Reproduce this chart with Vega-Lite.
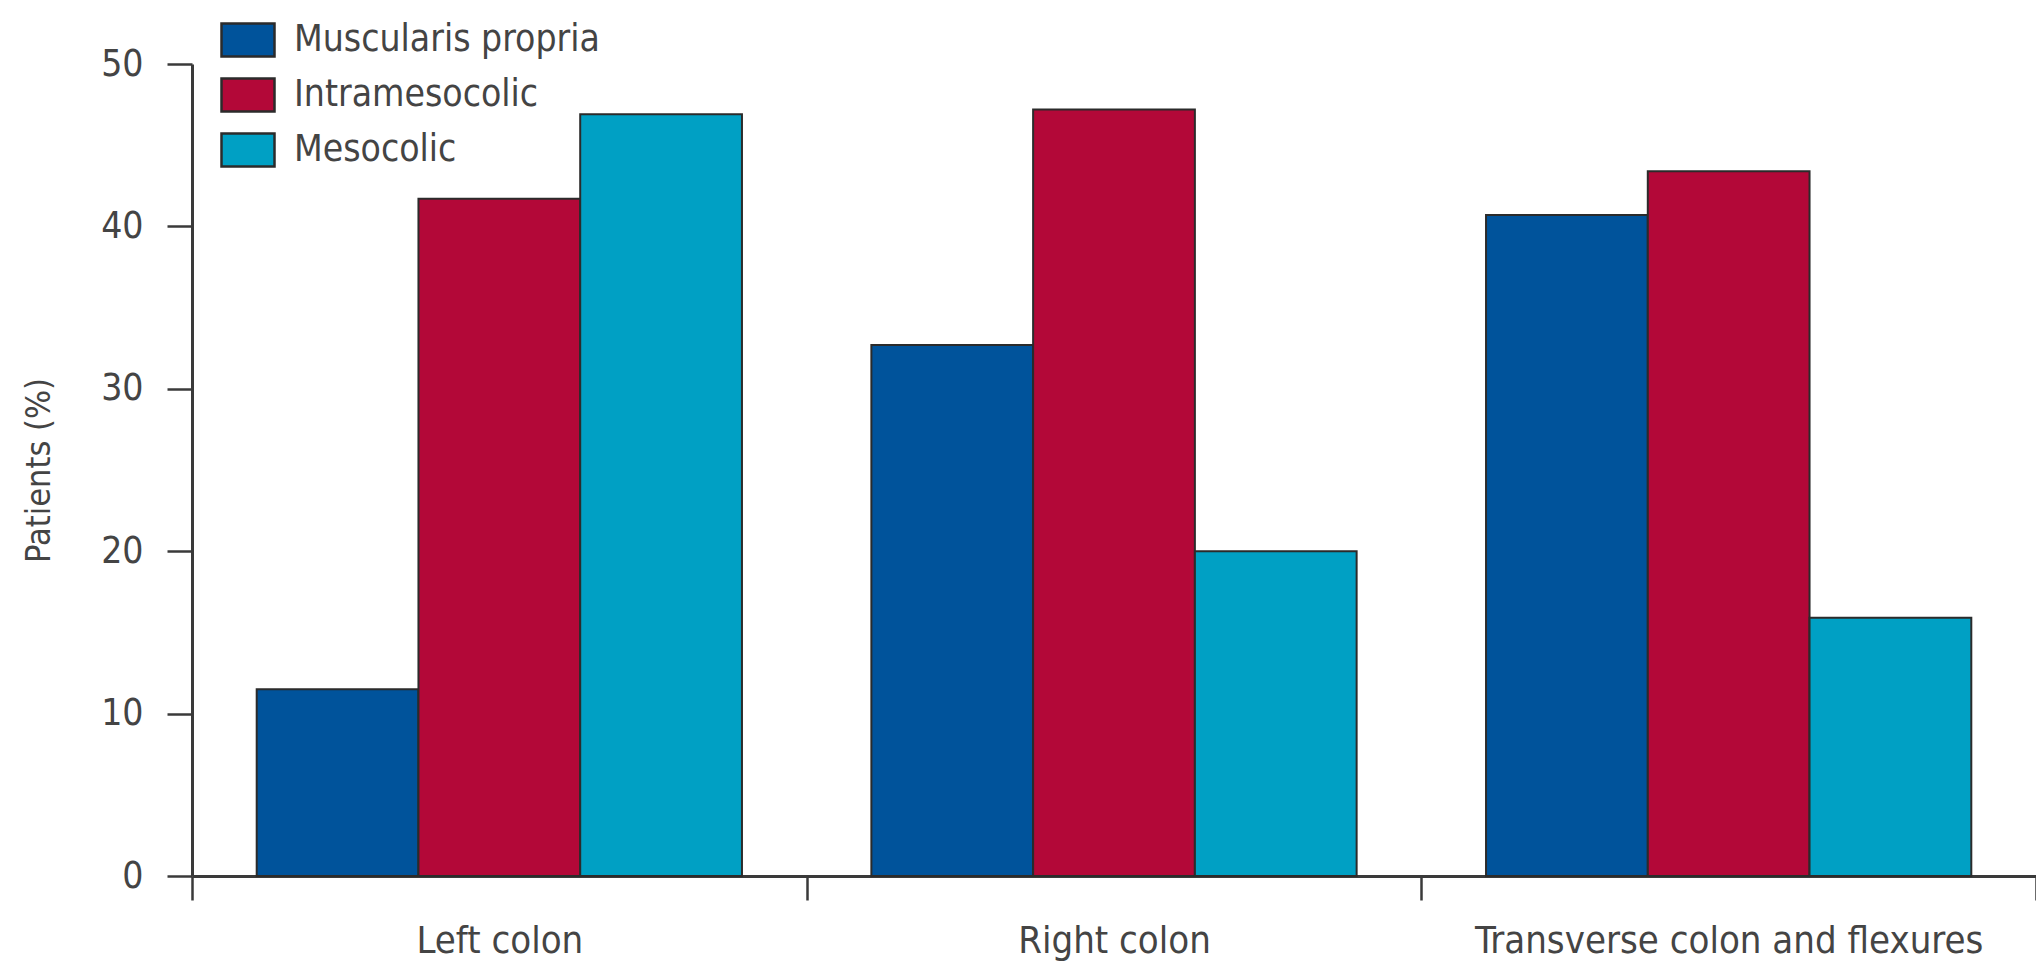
{
  "$schema": "https://vega.github.io/schema/vega-lite/v6.json",
  "width": 1844,
  "height": 812,
  "autosize": {"type": "none"},
  "padding": {"left": 192, "top": 64, "right": 0, "bottom": 85},
  "background": "white",
  "config": {
    "view": {"stroke": null},
    "font": "DejaVu Sans Condensed",
    "axis": {"labelFont": "DejaVu Sans Condensed", "titleFont": "DejaVu Sans Condensed"},
    "legend": {"labelFont": "DejaVu Sans Condensed"}
  },
  "data": {
    "values": [
      {"site": "Left colon", "type": "Muscularis propria", "value": 11.5},
      {"site": "Left colon", "type": "Intramesocolic", "value": 41.7},
      {"site": "Left colon", "type": "Mesocolic", "value": 46.9},
      {"site": "Right colon", "type": "Muscularis propria", "value": 32.7},
      {"site": "Right colon", "type": "Intramesocolic", "value": 47.2},
      {"site": "Right colon", "type": "Mesocolic", "value": 20.0},
      {"site": "Transverse colon and flexures", "type": "Muscularis propria", "value": 40.7},
      {"site": "Transverse colon and flexures", "type": "Intramesocolic", "value": 43.4},
      {"site": "Transverse colon and flexures", "type": "Mesocolic", "value": 15.9}
    ]
  },
  "mark": {"type": "bar", "stroke": "#2b2b2b", "strokeWidth": 2},
  "encoding": {
    "x": {
      "field": "site", "type": "nominal",
      "sort": ["Left colon", "Right colon", "Transverse colon and flexures"],
      "scale": {"paddingInner": 0, "paddingOuter": 0},
      "axis": {
        "title": null, "labelAngle": 0, "tickBand": "extent", "labelLimit": 0,
        "domainColor": "#3a3a3a", "domainWidth": 3,
        "tickColor": "#3a3a3a", "tickWidth": 2.5, "tickSize": 24,
        "labelFontSize": 38, "labelColor": "#444444", "labelPadding": 22
      }
    },
    "xOffset": {
      "field": "type", "type": "nominal",
      "sort": ["Muscularis propria", "Intramesocolic", "Mesocolic"],
      "scale": {"paddingInner": 0, "paddingOuter": 0.4}
    },
    "y": {
      "field": "value", "type": "quantitative",
      "scale": {"domain": [0, 50], "nice": false},
      "axis": {
        "title": "Patients (%)", "values": [0, 10, 20, 30, 40, 50], "grid": false,
        "domainColor": "#3a3a3a", "domainWidth": 3,
        "tickColor": "#3a3a3a", "tickWidth": 2.5, "tickSize": 25,
        "labelFontSize": 37, "labelColor": "#444444", "labelPadding": 24,
        "titleFontSize": 34, "titleFontWeight": "normal", "titleColor": "#444444", "titlePadding": 44
      }
    },
    "color": {
      "field": "type", "type": "nominal",
      "sort": ["Muscularis propria", "Intramesocolic", "Mesocolic"],
      "scale": {
        "domain": ["Muscularis propria", "Intramesocolic", "Mesocolic"],
        "range": ["#00539b", "#b30838", "#00a0c4"]
      },
      "legend": {
        "title": null, "orient": "none", "legendX": 28, "legendY": -52,
        "symbolType": "M-1,-0.62H1V0.62H-1Z", "symbolSize": 2809,
        "symbolStrokeColor": "#2b2b2b", "symbolStrokeWidth": 2.5, "symbolOpacity": 1,
        "labelFontSize": 37, "labelColor": "#444444", "labelOffset": 18, "labelLimit": 0,
        "rowPadding": 5, "padding": 0
      }
    }
  }
}
